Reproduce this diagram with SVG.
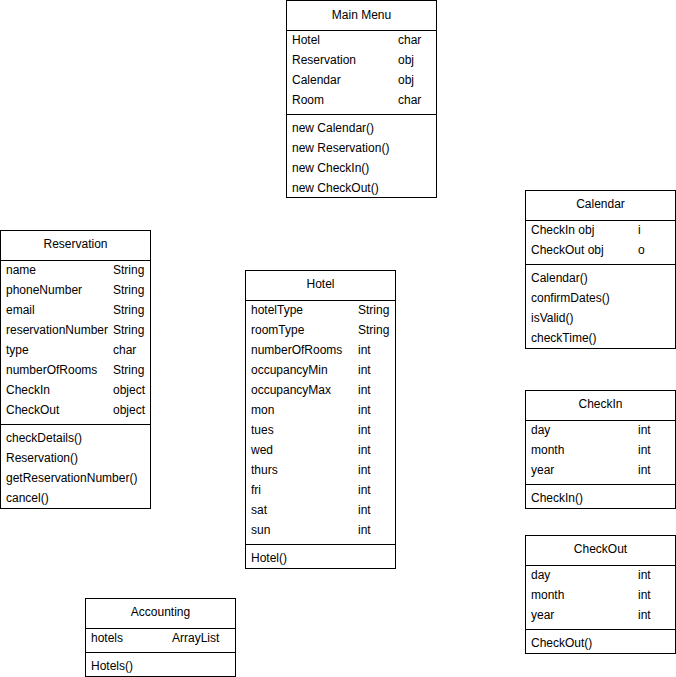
<svg xmlns="http://www.w3.org/2000/svg" width="676" height="677" viewBox="0 0 676 677">
<style>
.box{fill:#ffffff;stroke:#000000;stroke-width:1}
.ln{stroke:#000000;stroke-width:1}
text{font-family:"Liberation Sans",Arial,sans-serif;font-size:12px;fill:#000000}
.t{text-anchor:middle}
</style>
<rect x="0" y="0" width="676" height="677" fill="#ffffff"/>
<g id="connectors"></g>
<g id="main-menu">
<rect class="box" x="286.5" y="0.5" width="150" height="197"/>
<line class="ln" x1="286.5" y1="30.5" x2="436.5" y2="30.5"/>
<line class="ln" x1="286.5" y1="114.5" x2="436.5" y2="114.5"/>
<text class="t" x="361.5" y="19">Main Menu</text>
<text x="292" y="44">Hotel</text><text x="398" y="44">char</text>
<text x="292" y="64">Reservation</text><text x="398" y="64">obj</text>
<text x="292" y="84">Calendar</text><text x="398" y="84">obj</text>
<text x="292" y="104">Room</text><text x="398" y="104">char</text>
<text x="292" y="132">new Calendar()</text>
<text x="292" y="152">new Reservation()</text>
<text x="292" y="172">new CheckIn()</text>
<text x="292" y="192">new CheckOut()</text>
</g>
<g id="reservation">
<rect class="box" x="0.5" y="230.5" width="150" height="278"/>
<line class="ln" x1="0.5" y1="260.5" x2="150.5" y2="260.5"/>
<line class="ln" x1="0.5" y1="424.5" x2="150.5" y2="424.5"/>
<text class="t" x="75.5" y="248">Reservation</text>
<text x="6" y="274">name</text><text x="113" y="274">String</text>
<text x="6" y="294">phoneNumber</text><text x="113" y="294">String</text>
<text x="6" y="314">email</text><text x="113" y="314">String</text>
<text x="6" y="334">reservationNumber</text><text x="113" y="334">String</text>
<text x="6" y="354">type</text><text x="113" y="354">char</text>
<text x="6" y="374">numberOfRooms</text><text x="113" y="374">String</text>
<text x="6" y="394">CheckIn</text><text x="113" y="394">object</text>
<text x="6" y="414">CheckOut</text><text x="113" y="414">object</text>
<text x="6" y="442">checkDetails()</text>
<text x="6" y="462">Reservation()</text>
<text x="6" y="482">getReservationNumber()</text>
<text x="6" y="502">cancel()</text>
</g>
<g id="hotel">
<rect class="box" x="245.5" y="270.5" width="150" height="298"/>
<line class="ln" x1="245.5" y1="300.5" x2="395.5" y2="300.5"/>
<line class="ln" x1="245.5" y1="544.5" x2="395.5" y2="544.5"/>
<text class="t" x="320.5" y="288">Hotel</text>
<text x="251" y="314">hotelType</text><text x="358" y="314">String</text>
<text x="251" y="334">roomType</text><text x="358" y="334">String</text>
<text x="251" y="354">numberOfRooms</text><text x="358" y="354">int</text>
<text x="251" y="374">occupancyMin</text><text x="358" y="374">int</text>
<text x="251" y="394">occupancyMax</text><text x="358" y="394">int</text>
<text x="251" y="414">mon</text><text x="358" y="414">int</text>
<text x="251" y="434">tues</text><text x="358" y="434">int</text>
<text x="251" y="454">wed</text><text x="358" y="454">int</text>
<text x="251" y="474">thurs</text><text x="358" y="474">int</text>
<text x="251" y="494">fri</text><text x="358" y="494">int</text>
<text x="251" y="514">sat</text><text x="358" y="514">int</text>
<text x="251" y="534">sun</text><text x="358" y="534">int</text>
<text x="251" y="562">Hotel()</text>
</g>
<g id="calendar">
<rect class="box" x="525.5" y="190.5" width="150" height="158"/>
<line class="ln" x1="525.5" y1="220.5" x2="675.5" y2="220.5"/>
<line class="ln" x1="525.5" y1="264.5" x2="675.5" y2="264.5"/>
<text class="t" x="600.5" y="208">Calendar</text>
<text x="531" y="234">CheckIn obj</text><text x="638" y="234">i</text>
<text x="531" y="254">CheckOut obj</text><text x="638" y="254">o</text>
<text x="531" y="282">Calendar()</text>
<text x="531" y="302">confirmDates()</text>
<text x="531" y="322">isValid()</text>
<text x="531" y="342">checkTime()</text>
</g>
<g id="checkin">
<rect class="box" x="525.5" y="390.5" width="150" height="118"/>
<line class="ln" x1="525.5" y1="420.5" x2="675.5" y2="420.5"/>
<line class="ln" x1="525.5" y1="484.5" x2="675.5" y2="484.5"/>
<text class="t" x="600.5" y="408">CheckIn</text>
<text x="531" y="434">day</text><text x="638" y="434">int</text>
<text x="531" y="454">month</text><text x="638" y="454">int</text>
<text x="531" y="474">year</text><text x="638" y="474">int</text>
<text x="531" y="502">CheckIn()</text>
</g>
<g id="checkout">
<rect class="box" x="525.5" y="535.5" width="150" height="118"/>
<line class="ln" x1="525.5" y1="565.5" x2="675.5" y2="565.5"/>
<line class="ln" x1="525.5" y1="629.5" x2="675.5" y2="629.5"/>
<text class="t" x="600.5" y="553">CheckOut</text>
<text x="531" y="579">day</text><text x="638" y="579">int</text>
<text x="531" y="599">month</text><text x="638" y="599">int</text>
<text x="531" y="619">year</text><text x="638" y="619">int</text>
<text x="531" y="647">CheckOut()</text>
</g>
<g id="accounting">
<rect class="box" x="85.5" y="598.5" width="150" height="78"/>
<line class="ln" x1="85.5" y1="628.5" x2="235.5" y2="628.5"/>
<line class="ln" x1="85.5" y1="652.5" x2="235.5" y2="652.5"/>
<text class="t" x="160.5" y="616">Accounting</text>
<text x="91" y="642">hotels</text><text x="172" y="642">ArrayList</text>
<text x="91" y="670">Hotels()</text>
</g>
</svg>
